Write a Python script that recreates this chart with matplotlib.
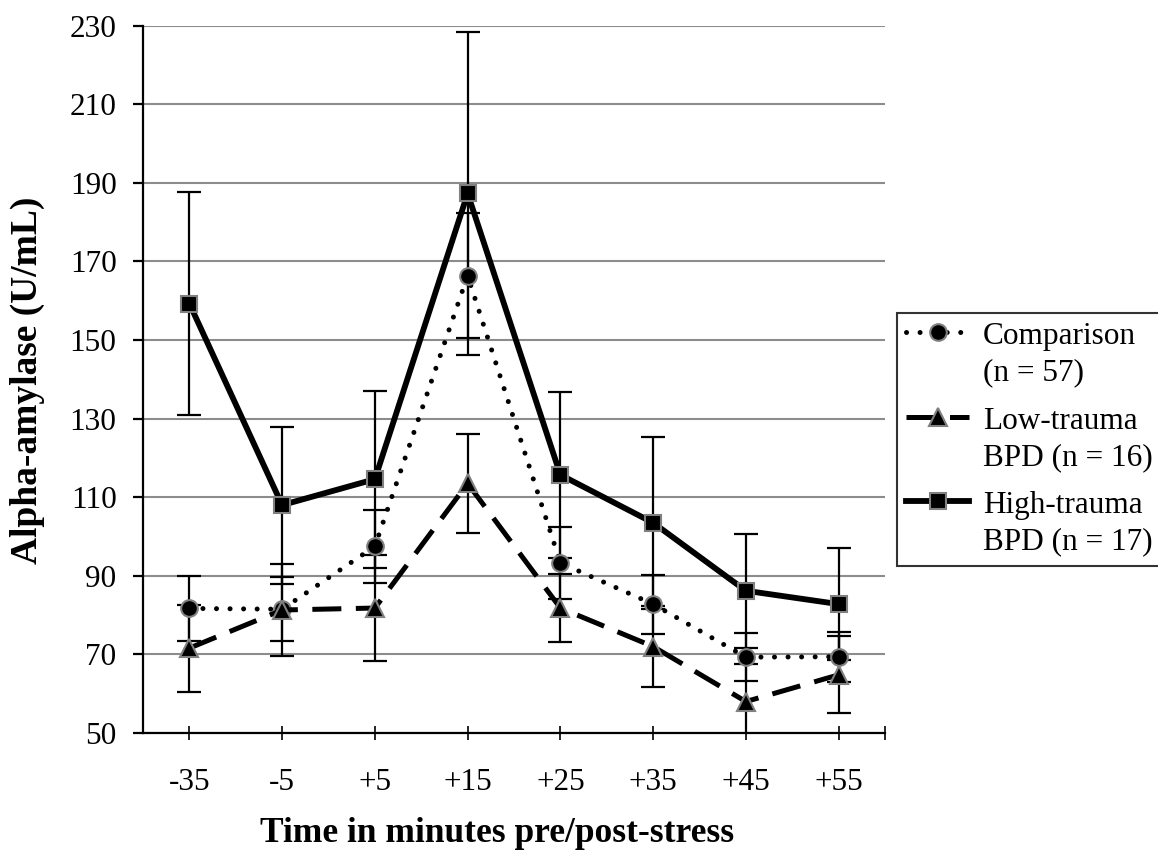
import numpy as np
import matplotlib.pyplot as plt
from matplotlib.legend_handler import HandlerLine2D

plt.rcParams['font.family'] = ['Liberation Serif', 'DejaVu Serif']

times = ['-35', '-5', '+5', '+15', '+25', '+35', '+45', '+55']
comparison = [81.7, 81.5, 97.5, 166.4, 93.3, 82.8, 69.3, 69.4]
comparison_err = [8.3, 8.2, 9.3, 15.9, 9.2, 7.5, 6.1, 6.4]
low_trauma = [71.6, 81.3, 81.8, 113.5, 81.8, 72.0, 58.0, 64.8]
low_trauma_err = [11.1, 11.7, 13.6, 12.7, 8.7, 10.3, 9.5, 9.8]
high_trauma = [159.3, 108.0, 114.6, 187.3, 115.7, 103.5, 86.2, 82.8]
high_trauma_err = [28.4, 20.0, 22.5, 41.0, 21.2, 21.9, 14.5, 14.2]
labels = ['Comparison\n(n = 57)', 'Low-trauma\nBPD (n = 16)', 'High-trauma\nBPD (n = 17)']

LINESP = 1.32


class FirstLineHandler(HandlerLine2D):
    # put the legend sample level with the first line of a two-line label
    def create_artists(self, legend, orig_handle, xdescent, ydescent, width, height, fontsize, trans):
        arts = super().create_artists(legend, orig_handle, xdescent, ydescent,
                                      width, height, fontsize, trans)
        for a in arts:
            a.set_ydata(np.asarray(a.get_ydata()) + 0.55 * LINESP * fontsize)
        return arts


fig = plt.figure(figsize=(11.58, 8.58), dpi=100)
ax = fig.add_axes([143/1158, 1-733/858, (885-143)/1158, (733-25.7)/858])
x = np.arange(len(times))

edge = '#808080'
series = [
    (comparison, comparison_err, 'o', dict(lw=3.6, linestyle=(0, (0.01, 2.7)), dash_capstyle='round'), 12),
    (low_trauma, low_trauma_err, '^', dict(lw=3.6, linestyle=(0, (5.8, 2.9))), 13),
    (high_trauma, high_trauma_err, 's', dict(lw=4.2, linestyle='-'), 12),
]

handles = []
for vals, errs, mk, style, ms in series:
    ax.errorbar(x, vals, yerr=errs, fmt='none', ecolor='black', elinewidth=1.6,
                capsize=8.5, capthick=1.6, zorder=3)
    h, = ax.plot(x, vals, color='black', marker=mk, markersize=ms,
                 markerfacecolor='black', markeredgecolor=edge, markeredgewidth=1.5,
                 zorder=4, **style)
    handles.append(h)

ax.set_xlim(-0.5, 7.5)
ax.set_ylim(50, 230)
ax.set_yticks(np.arange(50, 231, 20))
ax.set_xticks(x)
ax.set_xticklabels(times)
ax.set_xticks([7.5], minor=True)
ax.yaxis.grid(True, color='#8c8c8c', lw=1.5)
ax.set_axisbelow(True)
for s in ['top', 'right']:
    ax.spines[s].set_visible(False)
for s in ['left', 'bottom']:
    ax.spines[s].set_linewidth(1.6)
ax.tick_params(axis='y', direction='out', length=7, width=1.6, labelsize=22.5, pad=12)
ax.tick_params(axis='x', which='both', direction='inout', length=10, width=1.2, labelsize=22.5, pad=20)

ax.set_xlabel('Time in minutes pre/post-stress', fontsize=25.5, fontweight='bold')
ax.xaxis.set_label_coords(0.477, (733-817)/707.3)
ax.set_ylabel('Alpha-amylase (U/mL)', fontsize=27, fontweight='bold')
ax.yaxis.set_label_coords((45-143)/742, 0.499)

leg = fig.legend(handles, labels, loc='upper left', bbox_to_anchor=(897/1158, 1-313/858),
                 bbox_transform=fig.transFigure, fontsize=22.5, frameon=True, fancybox=False,
                 handlelength=2.0, handletextpad=0.45, borderpad=0.3, borderaxespad=0,
                 labelspacing=0.62, numpoints=1,
                 handler_map={h: FirstLineHandler() for h in handles})
leg.get_frame().set_edgecolor('black')
leg.get_frame().set_linewidth(1.5)
for t in leg.get_texts():
    t.set_linespacing(LINESP)

fig.savefig('out.png', dpi=100)
